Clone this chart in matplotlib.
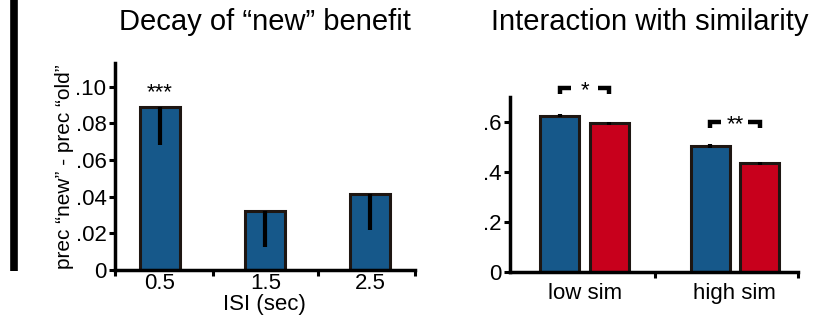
import matplotlib.pyplot as plt
from matplotlib.lines import Line2D

plt.rcParams["font.family"] = ["Liberation Sans", "DejaVu Sans"]

# left panel: decay of "new" benefit
isi_labels = ["0.5", "1.5", "2.5"]
benefit = [0.089, 0.032, 0.0415]
benefit_err_low = [0.021, 0.0195, 0.0195]
left_stars = ["***", "", ""]

# right panel: interaction with similarity
sim_labels = ["low sim", "high sim"]
prec_new = [0.625, 0.505]
prec_old = [0.595, 0.435]
err_new = [0.006, 0.008]
err_old = [0.006, 0.006]
sig_labels = ["*", "**"]

BLUE = "#16588a"
RED = "#c8001c"
EDGE = "#1e1612"
FS = 16

fig = plt.figure(figsize=(8.26, 3.24), dpi=100)

# separator bar on the far left
fig.add_artist(Line2D([0.017, 0.017], [0.165, 1.0], transform=fig.transFigure,
                      color="black", lw=5.5, solid_capstyle="butt"))

# panel titles
fig.text(0.321, 1 - 22 / 324, "Decay of \u201cnew\u201d benefit", fontsize=21,
         ha="center", va="center")
fig.text(0.787, 1 - 22 / 324, "Interaction with similarity", fontsize=21,
         ha="center", va="center")


def style_axes(ax):
    for side in ("top", "right"):
        ax.spines[side].set_visible(False)
    for side in ("left", "bottom"):
        ax.spines[side].set_linewidth(2.5)
    ax.tick_params(axis="y", which="both", direction="out", length=4, width=2.2,
                   labelsize=FS, pad=2)
    ax.tick_params(axis="x", which="both", direction="out", length=4, width=2.2,
                   labelsize=FS, pad=3)


# ---- left panel
ax1 = fig.add_axes([0.139, 0.167, 0.363, 0.639])
xs = list(range(len(benefit)))
ax1.bar(xs, benefit, width=0.38, color=BLUE, edgecolor=EDGE, linewidth=2.2, zorder=2)
ax1.errorbar(xs, benefit, yerr=[benefit_err_low, [0] * len(benefit)], fmt="none",
             ecolor="black", elinewidth=3, capsize=0, zorder=3)
for x, v, s in zip(xs, benefit, left_stars):
    if s:
        ax1.text(x, 0.0935, s, ha="center", va="baseline", fontsize=FS)
ax1.set_xlim(-0.43, 2.42)
ax1.set_ylim(0, 0.113)
ax1.set_yticks([0, 0.02, 0.04, 0.06, 0.08, 0.10])
ax1.set_yticklabels(["0", ".02", ".04", ".06", ".08", ".10"])
ax1.set_xticks(xs)
ax1.set_xticklabels(isi_labels)
ax1.set_xticks([-0.43, 0.5, 1.5, 2.42], minor=True)
style_axes(ax1)
ax1.tick_params(axis="x", which="major", length=0, pad=2)
ax1.set_xlabel("ISI (sec)", fontsize=FS, labelpad=0)
ax1.set_ylabel("prec \u201cnew\u201d - prec \u201cold\u201d", fontsize=15, labelpad=1)

# ---- right panel
ax2 = fig.add_axes([0.617, 0.160, 0.349, 0.540])
gx = list(range(len(sim_labels)))
off = 0.165
w = 0.26
xb = [g - off for g in gx]
xr = [g + off for g in gx]
ax2.bar(xb, prec_new, width=w, color=BLUE, edgecolor=EDGE, linewidth=2.2, zorder=2)
ax2.bar(xr, prec_old, width=w, color=RED, edgecolor=EDGE, linewidth=2.2, zorder=2)
ax2.errorbar(xb, prec_new, yerr=err_new, fmt="none", ecolor="black",
             elinewidth=3, capsize=0, zorder=3)
ax2.errorbar(xr, prec_old, yerr=err_old, fmt="none", ecolor="black",
             elinewidth=3, capsize=0, zorder=3)

# significance brackets
for g, a, b, s in zip(gx, prec_new, prec_old, sig_labels):
    top = max(a, b) + 0.11 if g == 0 else max(a, b) + 0.095
    drop = 0.024
    arm = 0.075
    l, r = g - off, g + off
    ax2.plot([l, l, l + arm], [top - drop, top, top], color="black", lw=3.2,
             solid_capstyle="butt", solid_joinstyle="miter", clip_on=False)
    ax2.plot([r - arm, r, r], [top, top, top - drop], color="black", lw=3.2,
             solid_capstyle="butt", solid_joinstyle="miter", clip_on=False)
    ax2.text(g, top - 0.03, s, ha="center", va="baseline", fontsize=FS)

ax2.set_xlim(-0.5, 1.42)
ax2.set_ylim(0, 0.70)
ax2.set_yticks([0, 0.2, 0.4, 0.6])
ax2.set_yticklabels(["0", ".2", ".4", ".6"])
ax2.set_xticks(gx)
ax2.set_xticklabels(sim_labels)
ax2.set_xticks([0.47, 1.42], minor=True)
style_axes(ax2)
ax2.tick_params(axis="x", which="major", length=0, pad=8)

fig.savefig("out.png", dpi=100)
